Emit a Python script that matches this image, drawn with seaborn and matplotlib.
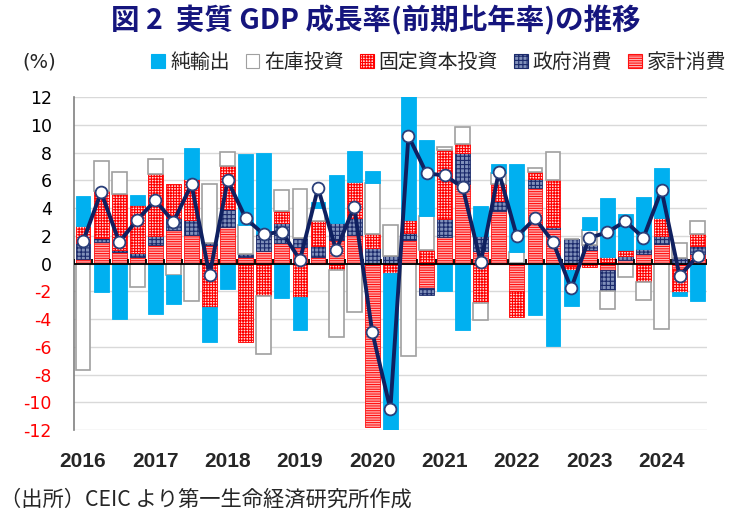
import numpy as np
import matplotlib
matplotlib.use("Agg")
import matplotlib.pyplot as plt
import matplotlib.patches as mpatches
import seaborn as sns

# quarters 2016Q1 - 2024Q3
years = ["2016", "2017", "2018", "2019", "2020", "2021", "2022", "2023", "2024"]
n_q = 35

# contributions (% pt)
kakei = [0.3, 1.55, 0.8, 0.45, 1.3, 2.4, 2.05, 1.3, 2.65, 0.5, 0.9, 1.45, 1.2, 0.45, 1.7, 2.05,
         -11.8, 0.0, 1.7, -1.8, 1.9, 5.7, 0.9, 3.8, -2.0, 5.45, 2.5, -0.15, 1.0, -0.5, 0.25, 0.7,
         1.4, -0.43, 0.7]
seifu = [1.2, 0.3, 0.15, 0.3, 0.65, 0.85, 1.1, 0.15, 1.25, 0.2, 1.25, 1.5, 0.65, 0.8, 1.2, 1.2,
         1.1, 0.55, 0.5, -0.5, 1.3, 2.25, 1.1, 0.7, 0.05, 0.65, 0.15, 1.75, 0.3, -1.5, 0.3, 0.35,
         0.6, 0.4, 0.55]
kotei = [1.2, 3.4, 4.05, 3.5, 4.5, 2.5, 2.95, -3.1, 3.1, -5.65, -2.35, 0.85, -2.4, 1.85, -0.5, 2.65,
         1.05, -0.65, 0.95, 1.0, 5.0, 0.7, -2.85, 1.2, -1.85, 0.5, 3.35, -0.3, -0.25, 0.5, 0.45, -1.3,
         1.3, -1.6, 0.85]
zaiko = [-7.7, 2.15, 1.6, -1.7, 1.05, -0.85, -2.7, 4.3, 1.05, 2.05, -4.2, 1.5, 3.55, 0.9, -4.8, -3.5,
         3.65, 2.25, -6.7, 2.4, 0.2, 1.2, -1.25, 0.8, 0.8, 0.3, 2.05, 0.0, 1.15, -1.3, -1.0, -1.3,
         -4.75, 1.05, 0.95]
yushutsu = [2.15, -2.05, -4.0, 0.7, -3.65, -2.1, 2.25, -2.55, -1.85, 5.15, 5.8, -2.45, -2.4, 0.45, 3.45, 2.2,
            0.9, -14.0, 10.5, 5.5, -2.0, -4.8, 2.15, 0.65, 6.3, -3.7, -5.95, -2.6, 0.9, 4.2, 2.6, 3.75,
            3.55, -0.3, -2.7]
gdp = [1.6, 5.15, 1.55, 3.15, 4.55, 3.0, 5.7, -0.85, 6.0, 3.25, 2.1, 2.3, 0.25, 5.45, 0.95, 4.1,
       -4.95, -10.5, 9.2, 6.5, 6.35, 5.5, 0.1, 6.6, 1.95, 3.25, 1.55, -1.8, 1.85, 2.25, 3.05, 1.85,
       5.3, -0.9, 0.55]

sns.set_style("white")
plt.rcParams['font.family'] = ['Noto Sans CJK JP', 'DejaVu Sans']
plt.rcParams['hatch.linewidth'] = 0.8

fig = plt.figure(figsize=(7.4, 5.19), dpi=100)
ax = fig.add_axes([0.1, 0.1715, 0.855, 0.6415])

x = np.arange(n_q)

# bar styles: stacking order from zero outwards
series = [
    ("家計消費", kakei, dict(facecolor="#ffb4b4", edgecolor="#ff1010", hatch="-------", linewidth=0.6)),
    ("政府消費", seifu, dict(facecolor="#8090ba", edgecolor="#1b2a6b", hatch="++++", linewidth=0.6)),
    ("固定資本投資", kotei, dict(facecolor="#ffe0e0", edgecolor="#ff0000", hatch="++++++", linewidth=0.6)),
    ("在庫投資", zaiko, dict(facecolor="white", edgecolor="#a0a0a0", linewidth=1.2)),
    ("純輸出", yushutsu, dict(facecolor="#00b0f0", edgecolor="#00b0f0", linewidth=0.6)),
]

pos_bottom = np.zeros(n_q)
neg_bottom = np.zeros(n_q)
for name, vals, style in series:
    v = np.array(vals)
    bottom = np.where(v >= 0, pos_bottom, neg_bottom)
    ax.bar(x, v, bottom=bottom, width=0.82, zorder=2, **style)
    pos_bottom = pos_bottom + np.where(v >= 0, v, 0)
    neg_bottom = neg_bottom + np.where(v < 0, v, 0)

# zero axis with category ticks
ax.axhline(0, color="black", linewidth=1.3, zorder=3)
ax.vlines(np.arange(n_q + 1) - 0.5, 0, 0.35, color="black", linewidth=1.3, zorder=3)

sns.lineplot(x=x, y=gdp, ax=ax, color="#0f2060", linewidth=2.8, marker="o",
             markersize=8.5, markerfacecolor="white", markeredgecolor="#2a3f7a",
             markeredgewidth=1.3, zorder=5)

ax.set_xlim(-0.5, n_q - 0.5)
ax.set_ylim(-12, 12)
yt = np.arange(-12, 13, 2)
ax.set_yticks(yt)
ax.set_yticklabels([str(v) for v in yt], family="DejaVu Sans", fontsize=12.5)
for lbl, v in zip(ax.get_yticklabels(), yt):
    lbl.set_color("red" if v < 0 else "black")
ax.set_xticks(x[::4])
ax.set_xticklabels(years, family="Liberation Sans", fontweight="bold", fontsize=15)
ax.tick_params(axis="y", length=0, pad=16)
ax.tick_params(axis="x", length=0, pad=16)
ax.grid(axis="y", color="#d9d9d9", linewidth=1, zorder=0)
ax.set_axisbelow(True)
for s in ["top", "right", "bottom"]:
    ax.spines[s].set_visible(False)
ax.spines["left"].set_color("#808080")
ax.spines["left"].set_linewidth(1.2)

# legend in the original order
handles = [mpatches.Patch(label=name, **{k: val for k, val in style.items() if k != "linewidth"},
                          linewidth=0.8) for name, vals, style in series[::-1]]
fig.legend(handles=handles, loc="center", bbox_to_anchor=(0.593, 0.88), ncol=5, frameon=False,
           fontsize=14.3, handlelength=0.7, handleheight=0.7, handletextpad=0.25, columnspacing=0.8)

fig.text(0.508, 0.96, "図 2  実質 GDP 成長率(前期比年率)の推移", ha="center", va="center",
         fontsize=20.5, fontweight="bold", color="#15157d")
fig.text(0.03, 1 - 62 / 519, "(%)", ha="left", va="center", fontsize=14, family="DejaVu Sans")
fig.text(0.0, 1 - 500 / 519, "（出所）CEIC より第一生命経済研究所作成", ha="left", va="center",
         fontsize=15.3)

fig.savefig("out.png", dpi=100)
